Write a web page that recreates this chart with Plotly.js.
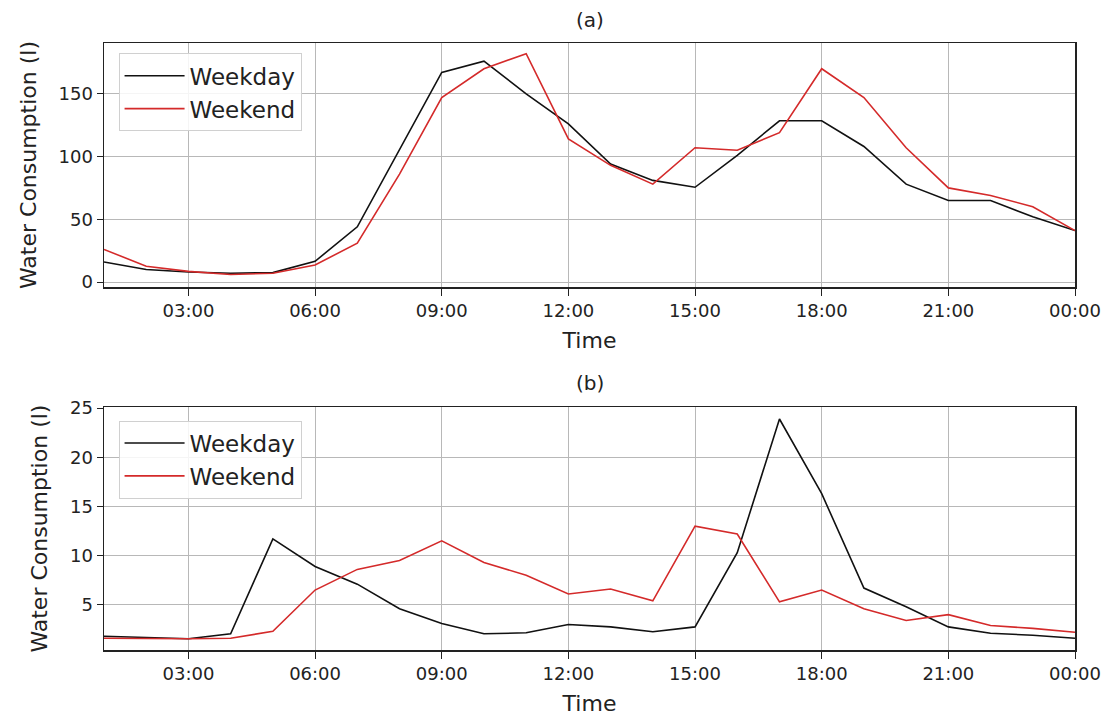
<!DOCTYPE html>
<html>
<head>
<meta charset="utf-8">
<script src="https://cdn.plot.ly/plotly-3.0.1.min.js"></script>
<style>html,body{margin:0;padding:0;background:#fff;}#chart{width:1109px;height:717px;}</style>
</head>
<body>
<div id="chart"></div>
<script>
// Hourly time stamps (01:00 ... 00:00 of next day)
const times = [
  '2019-01-01 01:00','2019-01-01 02:00','2019-01-01 03:00','2019-01-01 04:00',
  '2019-01-01 05:00','2019-01-01 06:00','2019-01-01 07:00','2019-01-01 08:00',
  '2019-01-01 09:00','2019-01-01 10:00','2019-01-01 11:00','2019-01-01 12:00',
  '2019-01-01 13:00','2019-01-01 14:00','2019-01-01 15:00','2019-01-01 16:00',
  '2019-01-01 17:00','2019-01-01 18:00','2019-01-01 19:00','2019-01-01 20:00',
  '2019-01-01 21:00','2019-01-01 22:00','2019-01-01 23:00','2019-01-02 00:00'
];
// (a)
const weekdayA = [16, 10, 8, 7, 7.5, 16.5, 44, 105, 167, 176, 150, 126, 94, 81, 75.5, 101, 128.5, 128.5, 108, 78, 65, 65, 52, 41];
const weekendA = [26, 12.5, 8.5, 6, 7, 13.5, 31, 86, 147, 170, 182, 114, 93, 78, 107, 105, 119, 170, 147, 107, 75, 69, 60, 41];
// (b)
const weekdayB = [1.8, 1.65, 1.55, 2.05, 11.7, 8.9, 7.1, 4.6, 3.1, 2.05, 2.15, 3.0, 2.75, 2.25, 2.75, 10.3, 23.9, 16.3, 6.7, 4.8, 2.75, 2.1, 1.9, 1.6];
const weekendB = [1.6, 1.55, 1.55, 1.6, 2.3, 6.5, 8.6, 9.5, 11.5, 9.3, 8.0, 6.1, 6.6, 5.4, 13.0, 12.2, 5.3, 6.5, 4.6, 3.4, 4.0, 2.9, 2.6, 2.2];

const seriesNames = ['Weekday', 'Weekend'];
const panelTitles = ['(a)', '(b)'];
const yTicksA = [0, 50, 100, 150];
const yTicksB = [5, 10, 15, 20, 25];

const FONT = 'DejaVu Sans, Verdana, sans-serif';
const BLACK = '#111111';
const RED = '#d42a2a';

const traces = [
  {x: times, y: weekdayA, name: seriesNames[0], mode: 'lines', line: {color: BLACK, width: 1.6}, xaxis: 'x', yaxis: 'y', legend: 'legend'},
  {x: times, y: weekendA, name: seriesNames[1], mode: 'lines', line: {color: RED, width: 1.6}, xaxis: 'x', yaxis: 'y', legend: 'legend'},
  {x: times, y: weekdayB, name: seriesNames[0], mode: 'lines', line: {color: BLACK, width: 1.6}, xaxis: 'x2', yaxis: 'y2', legend: 'legend2'},
  {x: times, y: weekendB, name: seriesNames[1], mode: 'lines', line: {color: RED, width: 1.6}, xaxis: 'x2', yaxis: 'y2', legend: 'legend2'}
];

function xAxis(anchor) {
  return {
    type: 'date', anchor: anchor,
    range: [times[0], times[times.length - 1]],
    tick0: '2019-01-01 00:00', dtick: 3 * 3600000, tickformat: '%H:%M',
    showgrid: true, gridcolor: '#b8b8b8', gridwidth: 1,
    showline: true, linecolor: '#222', linewidth: 1.5, mirror: true,
    ticks: 'outside', ticklen: 7, tickcolor: '#222',
    tickfont: {family: FONT, size: 18, color: '#222'},
    title: {text: 'Time', font: {family: FONT, size: 22, color: '#222'}, standoff: 12},
    zeroline: false
  };
}
function yAxis(anchor, domain, range, ticks) {
  return {
    anchor: anchor, domain: domain, range: range,
    tickvals: ticks,
    showgrid: true, gridcolor: '#b8b8b8', gridwidth: 1,
    showline: true, linecolor: '#222', linewidth: 1.5, mirror: true,
    ticks: 'outside', ticklen: 6, tickcolor: '#222',
    tickfont: {family: FONT, size: 18, color: '#222'},
    title: {text: 'Water Consumption (l)', font: {family: FONT, size: 22, color: '#222'}, standoff: 16},
    zeroline: false
  };
}

const legendStyle = (y) => ({
  x: 0.015, y: y, xanchor: 'left', yanchor: 'top',
  bgcolor: 'rgba(255,255,255,0.85)', bordercolor: '#d0d0d0', borderwidth: 1,
  font: {family: FONT, size: 23, color: '#222'},
  tracegroupgap: 0, itemwidth: 60, entrywidth: 190, entrywidthmode: 'pixels'
});

const layout = {
  width: 1109, height: 717,
  margin: {l: 104, r: 34, t: 43, b: 67},
  paper_bgcolor: '#fff', plot_bgcolor: '#fff',
  showlegend: true,
  xaxis: xAxis('y'),
  yaxis: yAxis('x', [0.598, 1], [-4, 190.5], yTicksA),
  xaxis2: xAxis('y2'),
  yaxis2: yAxis('x2', [0, 0.4], [0.4, 25.1], yTicksB),
  legend: legendStyle(0.983),
  legend2: legendStyle(0.378),
  annotations: [
    {text: panelTitles[0], xref: 'paper', yref: 'paper', x: 0.5, y: 1.038, xanchor: 'center', yanchor: 'middle', showarrow: false, font: {family: FONT, size: 20, color: '#222'}},
    {text: panelTitles[1], xref: 'paper', yref: 'paper', x: 0.5, y: 0.44, xanchor: 'center', yanchor: 'middle', showarrow: false, font: {family: FONT, size: 20, color: '#222'}}
  ]
};

Plotly.newPlot('chart', traces, layout, {displayModeBar: false, staticPlot: true});
</script>
</body>
</html>
